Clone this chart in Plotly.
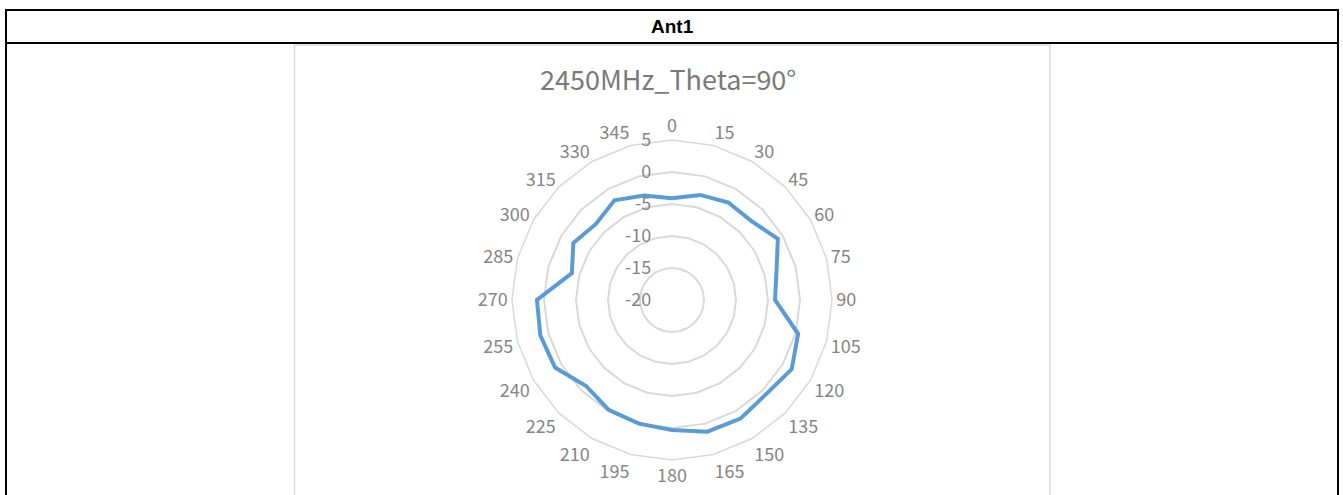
import plotly.graph_objects as go

angles = ["0", "15", "30", "45", "60", "75", "90", "105", "120", "135", "150", "165",
          "180", "195", "210", "225", "240", "255", "270", "285", "300", "315", "330", "345"]
gain_db = [-4.1, -3.0, -2.4, -2.5, -0.9, -3.1, -3.9, 0.4, 1.6, 0.8, 1.4, 1.3,
           0.3, 0.0, -0.2, -1.0, 1.1, 1.3, 1.1, -3.8, -2.2, -3.2, -2.0, -3.1]
radial_ticks = [-20, -15, -10, -5, 0, 5]
header_text = "Ant1"
chart_title = "2450MHz_Theta=90°"

W, H = 1343, 495
cx, cy, R = 672, 300, 160   # page pixel coordinates of the radar


def px(x):
    return x / W


def py(y):
    return 1 - y / H


fig = go.Figure()
fig.add_trace(go.Scatterpolar(
    r=gain_db + gain_db[:1],
    theta=angles + angles[:1],
    mode="lines",
    line=dict(color="#5B9BD5", width=4),
    showlegend=False,
    hoverinfo="skip",
))

label_font = dict(family="Noto Sans CJK SC", size=18, color="#858585")

fig.update_layout(
    width=W, height=H,
    margin=dict(l=0, r=0, t=0, b=0),
    paper_bgcolor="white",
    plot_bgcolor="white",
    polar=dict(
        domain=dict(x=[px(cx - R), px(cx + R)], y=[py(cy + R), py(cy - R)]),
        bgcolor="rgba(0,0,0,0)",
        gridshape="linear",
        angularaxis=dict(
            type="category",
            categoryarray=angles,
            direction="clockwise",
            rotation=90,
            showgrid=False,
            showline=True,
            linecolor="#d9d9d9",
            linewidth=1.5,
            ticks="",
            tickfont=label_font,
        ),
        radialaxis=dict(
            range=[-20, 5],
            tickvals=radial_ticks,
            ticktext=[str(v) for v in radial_ticks],
            angle=90,
            tickangle=90,
            side="counterclockwise",
            showline=False,
            showgrid=True,
            gridcolor="#d9d9d9",
            gridwidth=1.5,
            ticks="outside",
            ticklen=14,
            tickcolor="rgba(0,0,0,0)",
            tickfont=label_font,
        ),
    ),
    shapes=[
        # chart area border
        dict(type="rect", xref="paper", yref="paper",
             x0=px(294.5), x1=px(1050), y0=py(500), y1=py(45),
             line=dict(color="#d9d9d9", width=1.5), fillcolor="rgba(0,0,0,0)", layer="below"),
        # table borders
        dict(type="line", xref="paper", yref="paper", x0=px(5), x1=px(1339), y0=py(10), y1=py(10),
             line=dict(color="black", width=2)),
        dict(type="line", xref="paper", yref="paper", x0=px(5), x1=px(1339), y0=py(43), y1=py(43),
             line=dict(color="black", width=2)),
        dict(type="line", xref="paper", yref="paper", x0=px(6), x1=px(6), y0=py(9), y1=py(500),
             line=dict(color="black", width=2)),
        dict(type="line", xref="paper", yref="paper", x0=px(1338), x1=px(1338), y0=py(9), y1=py(500),
             line=dict(color="black", width=2)),
    ],
    annotations=[
        dict(text="<b>%s</b>" % header_text, x=px(672), y=py(26), xref="paper", yref="paper",
             showarrow=False, xanchor="center", yanchor="middle",
             font=dict(family="Liberation Sans", size=19, color="black")),
        dict(text=chart_title, x=px(668), y=py(78), xref="paper", yref="paper",
             showarrow=False, xanchor="center", yanchor="middle",
             font=dict(family="Noto Sans CJK SC", size=27, color="#7a7a7a")),
    ],
)

fig.write_html(
    "out.html",
    config={"displayModeBar": False},
    post_script="document.documentElement.style.margin='0';document.body.style.margin='0';"
                "document.body.style.overflow='hidden';",
)
